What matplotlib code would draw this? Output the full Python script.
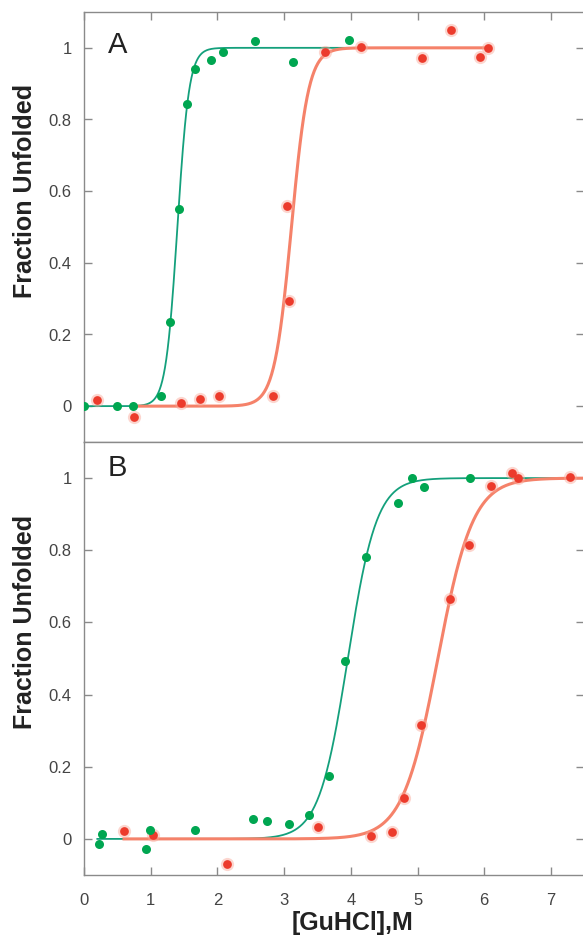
import numpy as np
import matplotlib
matplotlib.use("Agg")
import matplotlib.pyplot as plt

plt.rcParams['font.family'] = ['Liberation Sans', 'DejaVu Sans']

# panel A data  (GuHCl concentration, fraction unfolded)
a_green_x = [0.0, 0.5, 0.73, 1.16, 1.29, 1.42, 1.55, 1.67, 1.90, 2.08, 2.56, 3.14, 3.97]
a_green_y = [0.0, 0.0, 0.0, 0.028, 0.235, 0.551, 0.842, 0.94, 0.966, 0.989, 1.02, 0.96, 1.021]
a_red_x = [0.195, 0.75, 1.46, 1.74, 2.02, 2.83, 3.04, 3.08, 3.61, 4.15, 5.07, 5.50, 5.93, 6.06]
a_red_y = [0.016, -0.031, 0.010, 0.019, 0.027, 0.029, 0.558, 0.293, 0.989, 1.003, 0.973, 1.051, 0.975, 1.0]

# panel B data
b_green_x = [0.225, 0.27, 0.925, 0.985, 1.66, 2.53, 2.75, 3.08, 3.37, 3.67, 3.92, 4.23, 4.70, 4.91, 5.09, 5.78]
b_green_y = [-0.015, 0.015, -0.029, 0.026, 0.024, 0.056, 0.051, 0.041, 0.067, 0.173, 0.492, 0.78, 0.93, 1.0, 0.975, 1.0]
b_red_x = [0.60, 1.04, 2.14, 3.51, 4.30, 4.61, 4.80, 5.05, 5.49, 5.77, 6.10, 6.42, 6.50, 7.29]
b_red_y = [0.022, 0.01, -0.069, 0.034, 0.009, 0.018, 0.113, 0.317, 0.664, 0.815, 0.979, 1.013, 1.0, 1.002]

# range of each fitted curve
a_green_fit_range = (0.0, 3.97)
a_red_fit_range = (0.75, 6.06)
b_green_fit_range = (0.2, 7.5)
b_red_fit_range = (0.6, 7.5)

yticks = [0, 0.2, 0.4, 0.6, 0.8, 1]
ytick_labels = ['0', '0.2', '0.4', '0.6', '0.8', '1']
xticks = [0, 1, 2, 3, 4, 5, 6, 7]

GREEN_DOT = '#00a651'
GREEN_LINE = '#14a07c'
RED_DOT = '#ec3b2c'
RED_LINE = '#f5826a'
SPINE = '#8a8a8a'


def sigmoid(x, m, s):
    return 1.0 / (1.0 + np.exp(-(x - m) / s))


def fit_sigmoid(x, y):
    # crude two-state fit by grid search
    x = np.asarray(x); y = np.asarray(y)
    best = None
    for m in np.arange(0.5, 7.0, 0.005):
        for s in np.arange(0.04, 0.5, 0.004):
            err = np.sum((sigmoid(x, m, s) - y) ** 2)
            if best is None or err < best[0]:
                best = (err, m, s)
    return best[1], best[2]


def draw_panel(ax, gx, gy, rx, ry, grange, rrange):
    gm, gs = fit_sigmoid(gx, gy)
    rm, rs = fit_sigmoid(rx, ry)
    xg = np.linspace(*grange, 400)
    xr = np.linspace(*rrange, 400)
    ax.plot(xg, sigmoid(xg, gm, gs), color=GREEN_LINE, lw=1.3, zorder=2)
    ax.plot(xr, sigmoid(xr, rm, rs), color=RED_LINE, lw=2.2, zorder=3)
    ax.plot(rx, ry, 'o', color='#f9a595', ms=9.5, alpha=0.45, mec='none', zorder=4)
    ax.plot(rx, ry, 'o', color=RED_DOT, ms=6.3, mec='none', zorder=5)
    ax.plot(gx, gy, 'o', color=GREEN_DOT, ms=6.5, mec='none', zorder=6)

    ax.set_xlim(0, 7.5)
    ax.set_ylim(-0.1, 1.1)
    ax.set_yticks(yticks)
    ax.set_yticklabels(ytick_labels)
    ax.set_xticks(xticks)
    for sp in ax.spines.values():
        sp.set_color(SPINE)
        sp.set_linewidth(1.0)
    ax.spines['right'].set_visible(False)
    ax.tick_params(axis='both', direction='in', length=6, width=1.0,
                   color=SPINE, labelsize=12, labelcolor='#444444')
    ax.tick_params(axis='y', left=True, right=True, pad=9)
    ax.set_ylabel('Fraction Unfolded', fontsize=18, fontweight='bold', color='#222222')
    ax.yaxis.set_label_coords(-0.094, 0.585)


fig = plt.figure(figsize=(5.83, 9.38), dpi=100)
W, H = 583.0, 938.0
left = 84 / W
width = (584.3 - 84) / W
axA = fig.add_axes([left, (H - 442) / H, width, (442 - 12) / H])
axB = fig.add_axes([left, (H - 875) / H, width, (875 - 442) / H])

draw_panel(axA, a_green_x, a_green_y, a_red_x, a_red_y, a_green_fit_range, a_red_fit_range)
draw_panel(axB, b_green_x, b_green_y, b_red_x, b_red_y, b_green_fit_range, b_red_fit_range)

axA.tick_params(axis='x', top=True, bottom=False, labelbottom=False)
axB.tick_params(axis='x', top=False, bottom=True, pad=13)

axA.text(0.36, 0.985, 'A', fontsize=21, color='#222222')
axB.text(0.35, 1.006, 'B', fontsize=21, color='#222222')

axB.set_xlabel('[GuHCl],M', fontsize=18, fontweight='bold', color='#222222')
axB.xaxis.set_label_coords(0.536, -0.083)

fig.savefig('out.png', dpi=100)
